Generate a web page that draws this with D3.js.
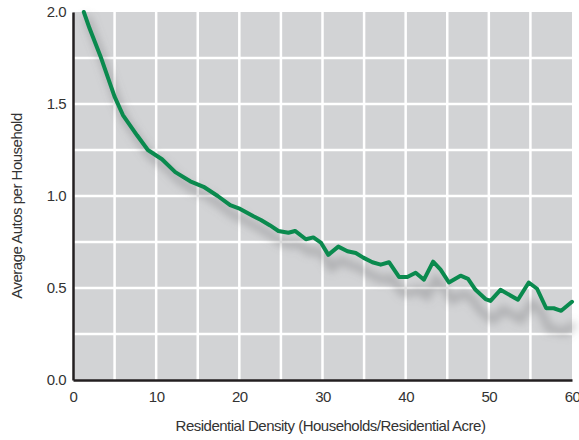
<!DOCTYPE html>
<html>
<head>
<meta charset="utf-8">
<script src="https://cdn.jsdelivr.net/npm/d3@7"></script>
<style>
body { margin:0; background:#fff; }
text { font-family:"Liberation Sans Narrow","Arial Narrow","Liberation Sans",sans-serif; fill:#333; letter-spacing:-0.5px; }
</style>
</head>
<body>
<svg id="graph1"></svg>
<script>
// residential density (households / residential acre)
var density = [1.3, 2, 3.3, 5, 6, 7.7, 9, 10.7, 12.3, 14.1, 15.7, 17.4, 18.9, 20.1, 21.7, 22.6,
    23.7, 24.7, 25.9, 26.7, 28, 28.9, 29.8, 30.7, 31.9, 33, 34, 34.9, 36, 37, 38, 39.2, 40.2,
    41.2, 42.2, 43.3, 44.2, 45.2, 46.6, 47.5, 48.4, 49.6, 50.2, 51.4, 53.5, 54.8, 55.8, 56.9,
    57.8, 58.7, 60];
// average autos per household
var autos = [2.0, 1.91, 1.76, 1.54, 1.44, 1.33, 1.25, 1.2, 1.13, 1.08, 1.05, 1.0, 0.95, 0.93, 0.89, 0.87,
    0.84, 0.81, 0.8, 0.81, 0.765, 0.775, 0.747, 0.68, 0.725, 0.7, 0.69, 0.665, 0.64, 0.627, 0.64, 0.56, 0.56,
    0.583, 0.545, 0.643, 0.6, 0.53, 0.567, 0.55, 0.49, 0.44, 0.43, 0.49, 0.436, 0.53, 0.496, 0.39,
    0.39, 0.376, 0.425];

var xTicks = [0, 10, 20, 30, 40, 50, 60];
var yTicks = [0.0, 0.5, 1.0, 1.5, 2.0];
var xGrid = [5, 10, 15, 20, 25, 30, 35, 40, 45, 50, 55];
var yGrid = [0.25, 0.5, 0.75, 1.0, 1.25, 1.5, 1.75];

var points = density.map(function(d, i) { return {x:d, y:autos[i]}; });

var drawChart = function(target)
{
    var screen = {width:579, height:440};
    var margins = {top:12, bottom:60, left:73, right:7};
    var graph =
    {
        width:screen.width-margins.left-margins.right,
        height:screen.height-margins.top-margins.bottom
    };

    var svg = d3.select(target)
        .attr("width",screen.width)
        .attr("height",screen.height);

    var xScale = d3.scaleLinear().domain([0,60]).range([0,graph.width]);
    var yScale = d3.scaleLinear().domain([0,2]).range([graph.height,0]);

    var defs = svg.append("defs");
    defs.append("filter")
        .attr("id","blur")
        .attr("x","-10%").attr("y","-30%")
        .attr("width","120%").attr("height","160%")
        .append("feGaussianBlur")
        .attr("stdDeviation",4);

    var g = svg.append("g")
        .attr("transform","translate("+margins.left+","+margins.top+")");

    g.append("rect")
        .attr("width",graph.width)
        .attr("height",graph.height)
        .attr("fill","#d2d3d5");

    g.selectAll(".vgrid")
        .data(xGrid)
        .enter()
        .append("line")
        .attr("x1",function(d){ return xScale(d); })
        .attr("x2",function(d){ return xScale(d); })
        .attr("y1",0)
        .attr("y2",graph.height)
        .attr("stroke","#fff")
        .attr("stroke-width",2.5);

    g.selectAll(".hgrid")
        .data(yGrid)
        .enter()
        .append("line")
        .attr("x1",0)
        .attr("x2",graph.width)
        .attr("y1",function(d){ return yScale(d); })
        .attr("y2",function(d){ return yScale(d); })
        .attr("stroke","#fff")
        .attr("stroke-width",2.5);

    var lineGenerator = d3.line()
        .x(function(p){ return xScale(p.x); })
        .y(function(p){ return yScale(p.y); });

    // shadow, drifting lower toward the right
    g.append("g")
        .attr("transform","translate(3,4) matrix(1,0.036,0,1,0,0)")
        .append("path")
        .datum(points)
        .attr("d",lineGenerator)
        .attr("fill","none")
        .attr("stroke","#6d6e70")
        .attr("stroke-opacity",0.4)
        .attr("stroke-width",7)
        .attr("filter","url(#blur)");

    g.append("path")
        .datum(points)
        .attr("d",lineGenerator)
        .attr("fill","none")
        .attr("stroke","#0a8a4e")
        .attr("stroke-width",4)
        .attr("stroke-linejoin","round")
        .attr("stroke-linecap","round");

    // axes
    var xAxis = d3.axisBottom(xScale).tickValues(xTicks).tickSize(0).tickPadding(11)
        .tickFormat(d3.format("d"));
    var yAxis = d3.axisLeft(yScale).tickValues(yTicks).tickSize(0).tickPadding(7)
        .tickFormat(d3.format(".1f"));

    var xa = g.append("g")
        .attr("transform","translate(0,"+graph.height+")")
        .call(xAxis);
    var ya = g.append("g")
        .call(yAxis);

    [xa, ya].forEach(function(a)
    {
        a.select(".domain").attr("stroke","#231f20").attr("stroke-width",2.5);
        a.selectAll("text").style("font-size","15px").attr("fill","#333");
    });

    svg.append("text")
        .attr("x",margins.left+graph.width/2+8)
        .attr("y",431)
        .attr("text-anchor","middle")
        .style("font-size","15px")
        .text("Residential Density (Households/Residential Acre)");

    svg.append("g")
        .attr("transform","translate(22,"+(margins.top+graph.height/2+10)+")")
        .append("text")
        .attr("transform","rotate(-90)")
        .attr("text-anchor","middle")
        .style("font-size","15px")
        .text("Average Autos per Household");
};

drawChart("#graph1");
</script>
</body>
</html>
